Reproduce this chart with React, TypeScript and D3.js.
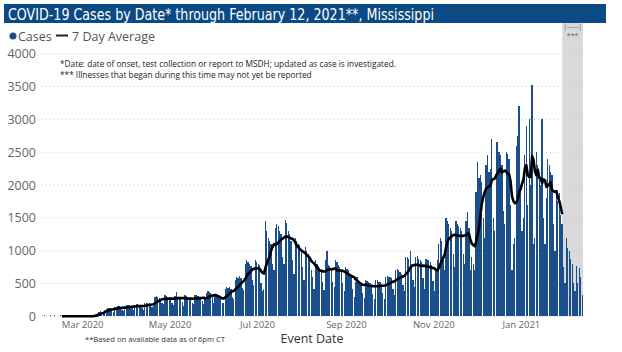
import React from "react";
import * as d3 from "d3";

// Daily cases by event date
const feb2020 = [0,0,1,0,0,0,1,0,0,1,0,0,0,1,0,0,0,0,1,0,0,0,0,1,0,0,1,0,1];
const mar2020 = [0,1,1,2,1,3,2, 5,15,30,50,70,85,60, 45,100,110,120,125,130,90, 70,140,145,150,150,140,100, 80,160,165];
const apr2020 = [170,165,160,120, 95,175,180,185,170,160,125, 100,200,210,205,200,190,140, 150,300,310,290,280,270,210, 180,320,310,300,290];
const may2020 = [280,210, 170,310,375,300,290,280,220, 160,320,310,290,300,285,210, 180,330,320,310,300,290,230, 190,280,350,380,370,360,290, 200];
const jun2020 = [320,310,300,290,280,210, 200,420,450,430,440,420,300, 260,560,600,580,620,590,430, 400,800,850,820,800,760,560, 480,860,830];
const jul2020 = [800,780,500,380, 420,1450,1300,1200,1150,1100,800, 700,1350,1400,1380,1300,1250,900, 800,1470,1420,1300,1250,1150,850, 650,1200,1150,1100,1080,1000];
const aug2020 = [750, 550,1050,1000,950,900,700,600, 420,850,800,760,740,700,520, 400,850,1000,780,760,720,520, 450,850,820,780,750,700,500, 380,750];
const sep2020 = [720,700,650,620,420, 300,520,600,560,520,500,360, 280,560,540,520,500,480,340, 260,560,550,530,520,490,350, 270,600,620,600];
const oct2020 = [600,580,420, 320,700,720,700,680,650,480, 380,900,900,880,1000,800,560, 440,900,920,880,860,820,580, 420,880,860,850,820,780,540];
const nov2020 = [380,700,850,1100,1200,1150,850, 700,1500,1450,1400,1350,1300,950, 750,1450,1400,1380,1350,1300,950, 800,1450,1590,1350,700,900,800, 700,1900];
const dec2020 = [2350,2100,2150,2050,1500, 1200,2300,2450,2200,2250,2700,1500, 1300,2650,2650,2500,2450,2300,1600, 1400,2500,2470,2400,1700,700,1100, 1200,2600,2750,3210,2000];
const jan2021 = [1300,1500, 2450,2900,1700,3000,2000,3530,1100, 1200,2500,2300,2100,2000,3000,1500, 1100,1800,2400,2300,2200,2150,1400, 1000,1900,1750,1880,1550,1400, 750,500];
const feb2021 = [1190,1040,1000,870,800,500,380,770,500,730,600,330];

const monthlyCases = [feb2020, mar2020, apr2020, may2020, jun2020, jul2020, aug2020, sep2020, oct2020, nov2020, dec2020, jan2021, feb2021];

const startDate = new Date(2020, 1, 1);
const endDate = new Date(2021, 1, 13);
const lineStart = new Date(2020, 1, 15);
const lineEnd = new Date(2021, 0, 29);
const greyStart = new Date(2021, 0, 29, 12);

const yTicks = [0, 500, 1000, 1500, 2000, 2500, 3000, 3500, 4000];
const xTickDates = [new Date(2020, 2, 1), new Date(2020, 4, 1), new Date(2020, 6, 1), new Date(2020, 8, 1), new Date(2020, 10, 1), new Date(2021, 0, 1)];
const xTickLabels = ["Mar 2020", "May 2020", "Jul 2020", "Sep 2020", "Nov 2020", "Jan 2021"];

const titleText = "COVID-19 Cases by Date* through February 12, 2021**, Mississippi";
const note1 = "*Date: date of onset, test collection or report to MSDH; updated as case is investigated.";
const note2 = "*** Illnesses that began during this time may not yet be reported";
const footNote = "**Based on available data as of 6pm CT";

const BAR = "#1a4f8b";
const FONT = "'Open Sans', 'Noto Sans', sans-serif";

export default function App() {
  const cases = monthlyCases.flat();
  const x = d3.scaleTime().domain([startDate, endDate]).range([41, 583]);
  const y = d3.scaleLinear().domain([0, 4000]).range([316.3, 53.7]);
  const days = cases.map((v, i) => ({ date: d3.timeDay.offset(startDate, i), v }));
  const avg = days
    .map((d, i) => ({ date: d.date, v: i >= 6 ? (d3.mean(cases.slice(i - 6, i + 1)) as number) : 0 }))
    .filter((d) => d.date >= lineStart && d.date <= lineEnd);
  const step = x(d3.timeDay.offset(startDate, 1)) - x(startDate);
  const line = d3
    .line<{ date: Date; v: number }>()
    .x((d) => x(d.date) + step / 2)
    .y((d) => y(d.v));

  return (
    <svg width={622} height={352} style={{ position: "absolute", left: 0, top: 0, background: "#fff" }} fontFamily={FONT}>
      {/* title bar */}
      <rect x={4} y={4} width={602} height={19} fill="#0b4a84" />
      <text x={8} y={19.5} fill="#fff" fontSize={15} fontFamily="'DejaVu Sans Condensed', 'Roboto', sans-serif" textLength={426} lengthAdjust="spacingAndGlyphs">
        {titleText}
      </text>

      {/* grey "not yet reported" region */}
      <rect x={x(greyStart)} y={23} width={583 - x(greyStart)} height={316.3 - 23} fill="#d9d9d9" />
      <text x={(x(greyStart) + 583) / 2} y={29} fontSize={7} fill="#666" textAnchor="middle">|-----|</text>
      <text x={(x(greyStart) + 583) / 2} y={38} fontSize={7} fill="#666" textAnchor="middle">***</text>

      {/* gridlines */}
      {yTicks.map((t) => (
        <line key={t} x1={42} x2={583} y1={y(t)} y2={y(t)} stroke="#c8c8c8" strokeWidth={1} strokeDasharray="1,3" />
      ))}
      {yTicks.map((t) => (
        <text key={"l" + t} x={36} y={y(t) + 4.5} fontSize={12.5} fill="#666" textAnchor="end">
          {t}
        </text>
      ))}

      {/* bars */}
      <g shapeRendering="crispEdges">
        {days.map((d, i) =>
          d.v > 0 ? (
            <rect key={i} x={x(d.date)} width={step - 0.2} y={Math.min(y(d.v), 315.3)} height={Math.max(316.3 - y(d.v), 1)} fill={BAR} />
          ) : null
        )}
      </g>

      {/* 7-day average */}
      <path d={line(avg) || ""} fill="none" stroke="#000" strokeWidth={2.6} strokeLinejoin="round" />

      {/* x axis labels */}
      {xTickDates.map((d, i) => (
        <text key={i} x={x(d)} y={328} fontSize={9.5} fill="#666" textAnchor="middle">
          {xTickLabels[i]}
        </text>
      ))}
      <text x={312} y={343} fontSize={12.5} fill="#333" textAnchor="middle">Event Date</text>
      <text x={85} y={341.5} fontSize={7.6} fill="#333">{footNote}</text>

      {/* notes */}
      <text x={60} y={67} fontSize={8.3} fill="#222">{note1}</text>
      <text x={60} y={78} fontSize={8.3} fill="#222">{note2}</text>

      {/* legend */}
      <circle cx={13} cy={36} r={3.5} fill={BAR} />
      <text x={18} y={40.5} fontSize={12.5} fill="#555">Cases</text>
      <line x1={56} x2={68} y1={35.5} y2={35.5} stroke="#222" strokeWidth={2} />
      <text x={72} y={40.5} fontSize={12.5} fill="#555">7 Day Average</text>
    </svg>
  );
}
